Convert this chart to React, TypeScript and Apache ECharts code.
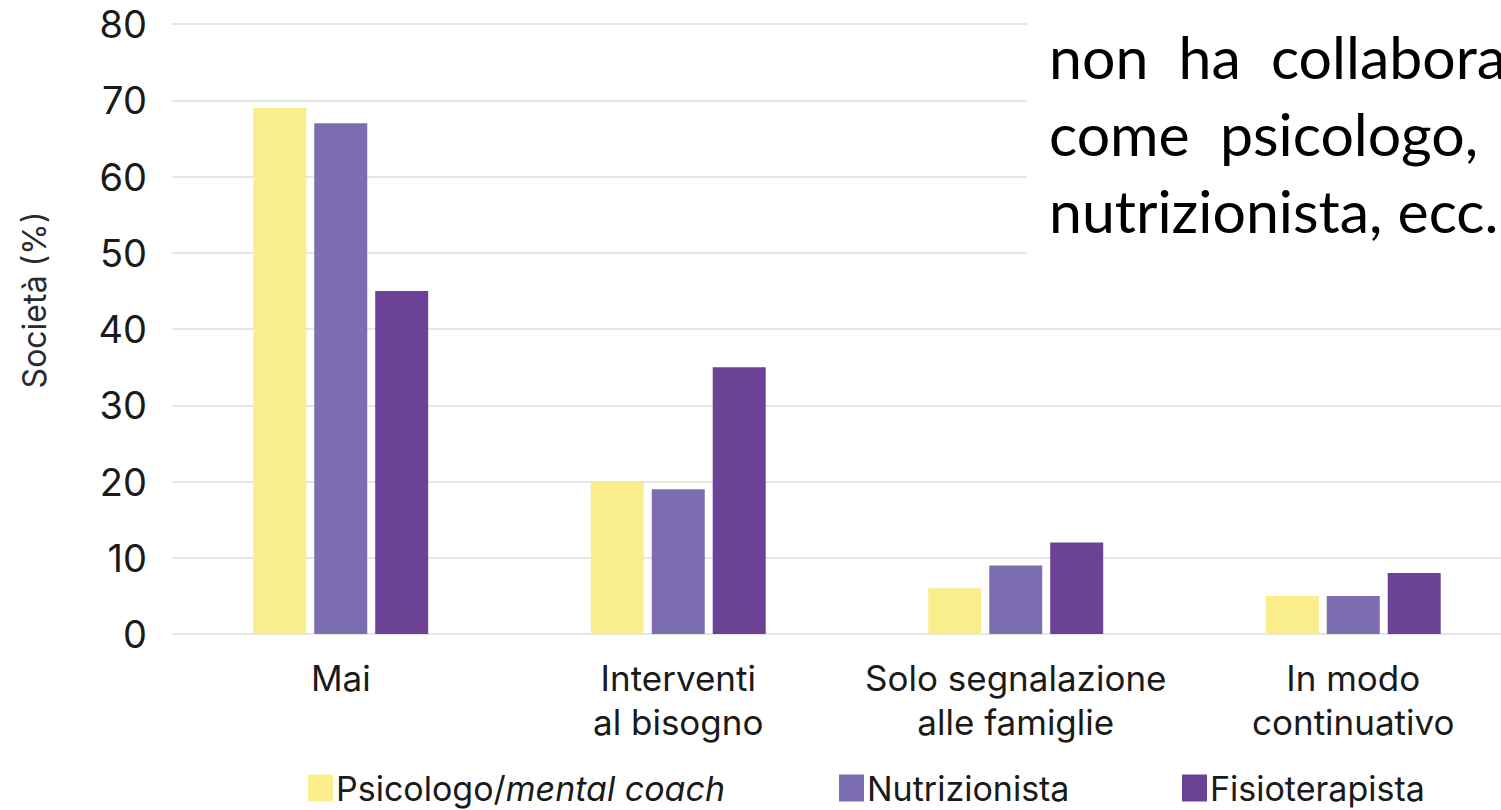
import React, { useEffect, useRef } from "react";
import * as echarts from "echarts";

const categories = [
  "Mai",
  "Interventi\nal bisogno",
  "Solo segnalazione\nalle famiglie",
  "In modo\ncontinuativo",
];
const seriesNames = ["Psicologo/mental coach", "Nutrizionista", "Fisioterapista"];
const psicologo = [69, 20, 6, 5];
const nutrizionista = [67, 19, 9, 5];
const fisioterapista = [45, 35, 12, 8];
const seriesColors = ["#F9EE8B", "#7B6DB0", "#6B4295"];
const yMin = 0;
const yMax = 80;
const yStep = 10;
const yAxisTitle = "Società (%)";
const overlayLines = ["non  ha  collaborazioni", "come  psicologo,", "nutrizionista, ecc."];

const FONT = "Inter, 'Liberation Sans', Arial, sans-serif";

export default function App() {
  const ref = useRef<HTMLDivElement>(null);
  useEffect(() => {
    document.body.style.margin = "0";
    const chart = echarts.init(ref.current!, null, { renderer: "svg" });
    const values = [psicologo, nutrizionista, fisioterapista];
    const legendLefts = [303, 834, 1177];
    chart.setOption({
      animation: false,
      backgroundColor: "#ffffff",
      grid: {
        left: 172,
        top: 24,
        width: 1350,
        height: 610,
        containLabel: false,
        outerBoundsMode: "none",
      },
      xAxis: {
        type: "category",
        data: categories,
        axisLine: { show: false },
        axisTick: { show: false },
        axisLabel: {
          interval: 0,
          fontSize: 35,
          lineHeight: 44,
          margin: 22,
          color: "#1a1a1a",
          fontFamily: FONT,
        },
      },
      yAxis: {
        type: "value",
        min: yMin,
        max: yMax,
        interval: yStep,
        axisLine: { show: false },
        axisTick: { show: false },
        axisLabel: { fontSize: 38, margin: 25, color: "#1a1a1a", fontFamily: FONT },
        splitLine: { lineStyle: { color: "#e6e6e6", width: 2 } },
      },
      legend: seriesNames.map((n, i) => ({
        data: [n],
        left: legendLefts[i],
        top: 766,
        itemWidth: 25,
        itemHeight: 27,
        itemGap: 0,
        icon: "rect",
        formatter: (name: string) =>
          name === "Psicologo/mental coach" ? "{n|Psicologo/}{i|mental coach}" : "{n|" + name + "}",
        textStyle: {
          color: "#1a1a1a",
          padding: [0, 0, 0, -2],
          rich: {
            n: { fontSize: 34, lineHeight: 36, fontFamily: FONT, color: "#1a1a1a" },
            i: { fontSize: 34, lineHeight: 36, fontFamily: FONT, fontStyle: "italic", color: "#1a1a1a" },
          },
        },
      })),
      series: seriesNames.map((n, i) => ({
        name: n,
        type: "bar",
        data: values[i],
        barWidth: 53,
        barGap: "15%",
        itemStyle: { color: seriesColors[i] },
      })),
      graphic: [
        {
          type: "text",
          x: 34,
          y: 300,
          rotation: Math.PI / 2,
          style: {
            text: yAxisTitle,
            fontSize: 32,
            fontFamily: FONT,
            fill: "#2a2a2a",
            align: "center",
            verticalAlign: "middle",
          },
        },
        {
          type: "rect",
          shape: { x: 1027, y: 0, width: 480, height: 290 },
          style: { fill: "#ffffff" },
          z: 100,
        },
        ...overlayLines.map((t, i) => ({
          type: "text",
          x: 1049,
          y: 56 + i * 77,
          z: 101,
          style: {
            text: t,
            fontSize: 59,
            fontFamily: "Lato, 'Open Sans', sans-serif",
            fill: "#000000",
            verticalAlign: "middle",
          },
        })),
      ],
    });
    return () => chart.dispose();
  }, []);
  return <div ref={ref} style={{ width: 1501, height: 810 }} />;
}
